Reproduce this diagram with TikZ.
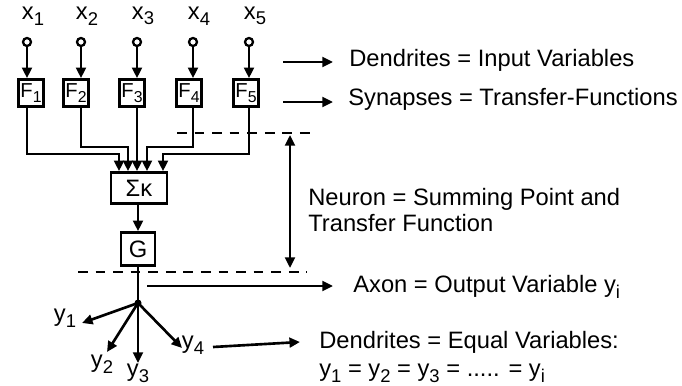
\documentclass[tikz,border=0pt]{standalone}
\usepackage{fontspec}
\setmainfont{Liberation Sans}
\usetikzlibrary{arrows.meta,positioning}
\newcommand{\sbs}[1]{\raisebox{-0.45ex}{\fontsize{10.5}{12}\selectfont #1}}
\newcommand{\fsbs}[1]{\raisebox{-0.4ex}{\fontsize{9}{10}\selectfont #1}}

\begin{document}
\begin{tikzpicture}[x=0.02cm, y=-0.02cm, line width=1.5pt,
  every node/.style={font=\fontsize{13.5}{15}\selectfont},
  tip/.style={-{Triangle[length=6pt,width=5.5pt]}},
  fbox/.style={draw, minimum width=0.44cm, minimum height=0.54cm, inner sep=1pt,
    font=\fontsize{11.5}{13}\selectfont},
  pin/.style={draw, circle, minimum size=0.16cm, inner sep=0pt, line width=1.3pt},
  sep/.style={dash pattern=on 5.5pt off 4.5pt, line width=1.6pt},
  note/.style={anchor=west, inner sep=0pt}]
  \useasboundingbox (0,0) rectangle (682,385);
  % inputs and synapses
  \foreach \i/\px/\fx in {1/27/31, 2/81/76, 3/137/132, 4/193/189, 5/249/246}
    {
      \node[pin] (c\i) at (\px,42) {};
      \node (x\i) at (\px+6,16) {x\sbs{\i}};
      \node[fbox] (F\i) at (\fx,93) {F\fsbs{\i}};
      \draw[tip] (c\i) -- (c\i |- F\i.north);
    }
  % summing point and transfer function
  \node[fbox, minimum width=1.12cm, minimum height=0.62cm, font=\fontsize{13.5}{15}\selectfont] (S) at (139,188) {Σκ};
  \node[fbox, minimum width=0.68cm, minimum height=0.66cm, font=\fontsize{13.5}{15}\selectfont] (G) at (138,249) {G};
  \foreach \i/\sx/\hy in {1/119/154, 2/128/147, 3/137/147, 4/147/147, 5/163/154}
    {
      \coordinate (s\i) at (\sx,0 |- S.north);
      \draw[tip] (c\i |- F\i.south) |- (s\i |- 0,\hy) -- (s\i);
    }
  \draw[tip] (G.north |- S.south) -- (G.north);
  % neuron boundaries
  \coordinate (u1) at (177,133);
  \coordinate (u2) at (310,133);
  \coordinate (l1) at (78,272);
  \coordinate (l2) at (307,272);
  \draw[sep] (u1) -- (u2);
  \draw[sep] (l1) -- (l2);
  \coordinate (n1) at (290,135);
  \coordinate (n2) at (290,268);
  \draw[{Triangle[length=6pt,width=5.5pt]}-{Triangle[length=6pt,width=5.5pt]}] (n1) -- (n2);
  \node[note, align=left] (neuron) at (307,210)
    {Neuron = Summing Point and\\Transfer Function};
  % axon and output dendrites
  \coordinate (b) at (138,303);
  \draw (G.south) -- (b);
  \fill (b) circle (3.5);
  \foreach \i/\tx/\ty/\lx/\ly in {1/82/323/65/318, 2/107/352/102/364, 3/138/363/138/373, 4/182/348/193/345}
    {
      \coordinate (t\i) at (\tx,\ty);
      \draw[tip] (b) -- (t\i);
      \node (y\i) at (\lx,\ly) {y\sbs{\i}};
    }
  % explanations
  \node[note] (din) at (348,60) {Dendrites = Input Variables};
  \node[note] (syn) at (347,99) {Synapses = Transfer-Functions};
  \node[note] (axon) at (352,287) {Axon = Output Variable y\sbs{i}};
  \node[note] (deq) at (318,342) {Dendrites = Equal Variables:};
  \node[note] (yeq) at (318,373) {y\sbs{1} = y\sbs{2} = y\sbs{3} = ..... = y\sbs{i}};
  \coordinate (a1) at (283,62);
  \coordinate (a2) at (283,102);
  \coordinate (a3) at (147,286);
  \coordinate (a4) at (213,347);
  \draw[tip] (a1) -- ([xshift=-0.3cm]din.west |- a1);
  \draw[tip] (a2) -- ([xshift=-0.28cm]syn.west |- a2);
  \draw[tip] (a3) -- ([xshift=-0.38cm]axon.west |- a3);
  \draw[tip] (a4) -- ([xshift=-0.36cm]deq.west);
\end{tikzpicture}
\end{document}
